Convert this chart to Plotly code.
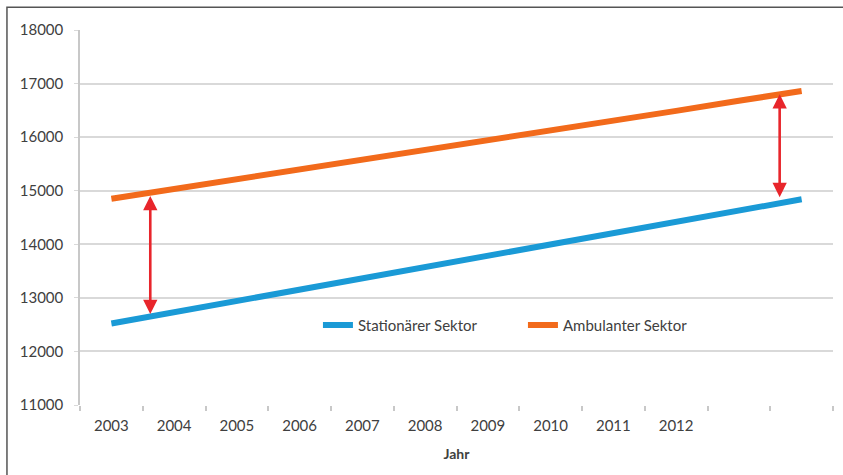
import plotly.graph_objects as go

# ---- data ----
x_pos = list(range(12))
year_labels = ["2003", "2004", "2005", "2006", "2007", "2008", "2009", "2010", "2011", "2012"]
stationaer = [12520, 12730, 12940, 13150, 13360, 13570, 13790, 14000, 14210, 14420, 14630, 14840]
ambulant = [14850, 15030, 15210, 15400, 15580, 15760, 15950, 16130, 16310, 16490, 16680, 16860]
# gap arrows: x position, lower value, upper value
arrow_x = [0.62, 10.65]
arrow_low = [12700, 14880]
arrow_high = [14930, 16830]

fig = go.Figure()
fig.add_trace(go.Scatter(x=x_pos, y=stationaer, mode="lines", name="Stationärer Sektor",
                         line=dict(color="#1a9ad6", width=6)))
fig.add_trace(go.Scatter(x=x_pos, y=ambulant, mode="lines", name="Ambulanter Sektor",
                         line=dict(color="#f26a1b", width=6)))

for xa, lo, hi in zip(arrow_x, arrow_low, arrow_high):
    fig.add_annotation(x=xa, y=lo, ax=xa, ay=hi, xref="x", yref="y", axref="x", ayref="y",
                       showarrow=True, arrowhead=2, startarrowhead=2, arrowside="end+start",
                       arrowsize=1.1, arrowwidth=2.6, arrowcolor="#e8252b", text="")

fig.update_layout(
    width=843, height=475,
    margin=dict(l=80, r=10, t=30, b=70),
    paper_bgcolor="white", plot_bgcolor="white",
    font=dict(family="Lato", size=15, color="#404040"),
    showlegend=True,
    legend=dict(orientation="h", x=0.316, y=0.213, xanchor="left", yanchor="middle",
                font=dict(size=15, color="#404040"), bgcolor="rgba(0,0,0,0)",
                itemwidth=30, entrywidth=160, entrywidthmode="pixels", tracegroupgap=0),
    xaxis=dict(range=[-0.5, 11.5], tickmode="array", tickvals=list(range(len(year_labels))),
               ticktext=year_labels, ticks="", showgrid=False, zeroline=False,
               showline=False, ticklabelstandoff=10,
               minor=dict(ticks="outside", tick0=-0.5, dtick=1, ticklen=5,
                          tickcolor="#c8c8c8", tickwidth=1.5, showgrid=False),
               title=dict(text="<b>Jahr</b>", standoff=16, font=dict(size=14, color="#404040")),
               tickfont=dict(size=15, color="#404040")),
    yaxis=dict(range=[11000, 18000], dtick=1000, tick0=11000, showgrid=True,
               gridcolor="#d9d9d9", gridwidth=1.5, zeroline=False,
               showline=True, linecolor="#c8c8c8", linewidth=1.5,
               ticks="outside", ticklen=4, tickcolor="#d9d9d9", ticklabelstandoff=8,
               tickfont=dict(size=15, color="#404040"), tickformat="d"),
    shapes=[dict(type="rect", xref="paper", yref="paper", x0=-0.097, x1=1.1, y0=-0.3, y1=1.061,
                 line=dict(color="#555555", width=1.5), layer="below")],
)

fig.write_html("out.html")
